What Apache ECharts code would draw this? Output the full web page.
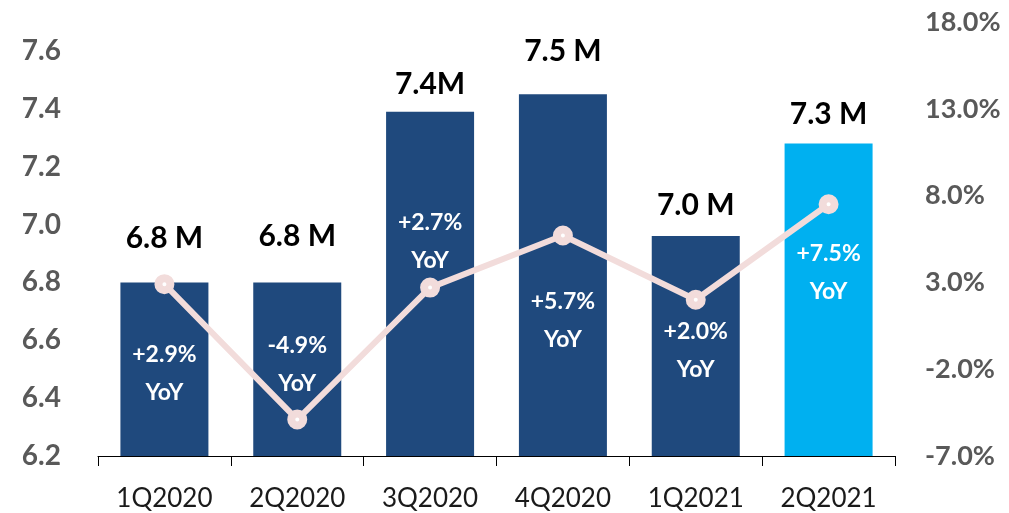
<!DOCTYPE html>
<html>
<head>
<meta charset="utf-8">
<script src="https://cdn.jsdelivr.net/npm/echarts@6/dist/echarts.min.js"></script>
<style>
html,body{margin:0;padding:0;background:#fff;}
#chart{width:1009px;height:513px;}
</style>
</head>
<body>
<div id="chart"></div>
<script>
// ---- data ----
var categories = ['1Q2020', '2Q2020', '3Q2020', '4Q2020', '1Q2021', '2Q2021'];
var usersM = [6.80, 6.80, 7.39, 7.45, 6.96, 7.28];
var barLabels = ['6.8 M', '6.8 M', '7.4M', '7.5 M', '7.0 M', '7.3 M'];
var yoyPct = [2.9, -4.9, 2.7, 5.7, 2.0, 7.5];
var leftTicks = { min: 6.2, max: 7.7, interval: 0.2 };
var rightTicks = { min: -7, max: 18, step: 5 };

// ---- layout / style (not data) ----
var barLabelDy = [-44, -46, -27, -43, -31, -29];
var yoyLabelDy = [89, -55, -46, 85, 51, 68];
var barColors = ['#1F497D', '#1F497D', '#1F497D', '#1F497D', '#1F497D', '#00B0F0'];
var FONT = 'Lato';

var barData = usersM.map(function (v, i) {
  return {
    value: v,
    itemStyle: { color: barColors[i] },
    label: { offset: [0, barLabelDy[i] + 15] }
  };
});
var lineData = yoyPct.map(function (v, i) {
  return { value: v, label: { offset: [0, yoyLabelDy[i]] } };
});

var chart = echarts.init(document.getElementById('chart'));
chart.setOption({
  animation: false,
  grid: { left: 98, right: 114, top: 22, bottom: 57 },
  xAxis: {
    type: 'category',
    data: categories,
    boundaryGap: true,
    axisLine: { show: true, onZero: false, lineStyle: { color: '#000', width: 1 } },
    axisTick: { show: true, length: 10, lineStyle: { color: '#000', width: 1 } },
    axisLabel: { fontFamily: FONT, fontSize: 26, color: '#1a1a1a', margin: 30 }
  },
  yAxis: [{
    type: 'value',
    min: leftTicks.min,
    max: leftTicks.max,
    interval: leftTicks.interval,
    axisLine: { show: false },
    axisTick: { show: false },
    splitLine: { show: false },
    axisLabel: {
      showMaxLabel: false,
      fontFamily: FONT, fontSize: 28, fontWeight: 'bold', color: '#595959', margin: 37,
      formatter: function (v) { return v.toFixed(1); }
    }
  }, {
    type: 'value',
    min: rightTicks.min,
    max: rightTicks.max,
    interval: 1,
    axisLine: { show: false },
    axisTick: { show: false },
    splitLine: { show: false },
    axisLabel: {
      fontFamily: FONT, fontSize: 27, fontWeight: 'bold', color: '#595959', margin: 30,
      formatter: function (v) {
        var k = Math.round(v - rightTicks.min);
        return (k % rightTicks.step === 0) ? v.toFixed(1) + '%' : '';
      }
    }
  }],
  series: [{
    type: 'bar',
    data: barData,
    barWidth: 88,
    yAxisIndex: 0,
    label: {
      show: true,
      position: 'top',
      distance: 0,
      fontFamily: FONT, fontSize: 30, fontWeight: 'bold', color: '#000',
      lineHeight: 30,
      formatter: function (p) { return barLabels[p.dataIndex]; }
    }
  }, {
    type: 'line',
    yAxisIndex: 1,
    data: lineData,
    z: 5,
    symbol: 'circle',
    symbolSize: 12,
    lineStyle: { color: '#F2DCDB', width: 6 },
    itemStyle: { color: '#FFFFFF', borderColor: '#F2DCDB', borderWidth: 8 },
    label: {
      show: true,
      position: 'inside',
      fontFamily: FONT, fontSize: 23, fontWeight: 'bold', color: '#FFFFFF',
      lineHeight: 38,
      formatter: function (p) {
        var v = p.value;
        return (v > 0 ? '+' : '') + v.toFixed(1) + '%\nYoY';
      }
    }
  }]
});
</script>
</body>
</html>
